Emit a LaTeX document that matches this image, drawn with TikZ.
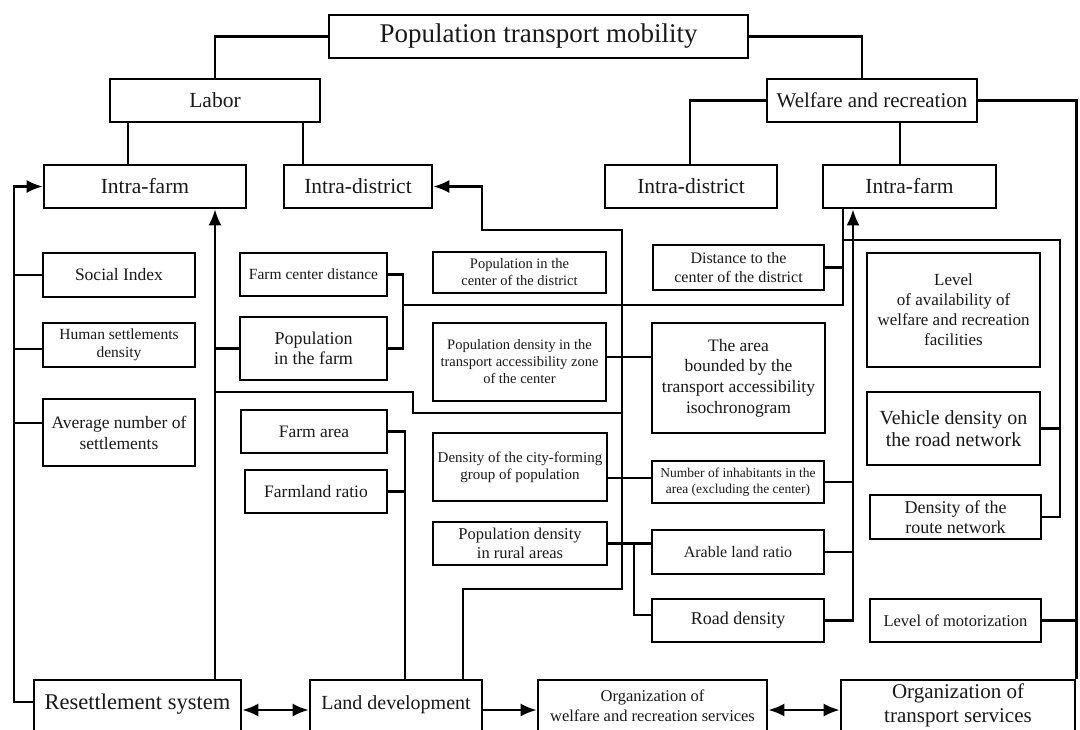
\documentclass[tikz,border=0pt]{standalone}
\usepackage{fontspec}
\setmainfont{Liberation Serif}
\usetikzlibrary{arrows.meta}
\newcommand{\fsz}[2]{\fontsize{#1}{#2}\selectfont}
\begin{document}
\begin{tikzpicture}[x=1pt,y=-1pt,
  box/.style={draw, line width=2.6pt, inner sep=1pt, align=center, text=black!90},
  lbl/.style={inner sep=0pt, align=center, text=black!90},
  ln/.style={line width=2.4pt},
  tip/.tip={Latex[length=16pt,width=13pt]},
  arr/.style={ln, -tip},
  darr/.style={ln, tip-tip}]
\useasboundingbox (0,0) rectangle (1080,729);
\clip (0,0) rectangle (1080,729);
\fill[white] (0,0) rectangle (1080,729);

% bus coordinates
\coordinate (busL) at (14,0);
\coordinate (busM) at (215,0);
\coordinate (busF) at (403,0);
\coordinate (busJ) at (413,0);
\coordinate (busG) at (405,0);
\coordinate (busH) at (463,0);
\coordinate (busI) at (482,0);
\coordinate (busC) at (622,0);
\coordinate (busK) at (634,0);
\coordinate (busD) at (843,0);
\coordinate (busR) at (853,0);
\coordinate (busV) at (1060,0);
\coordinate (busE) at (1075,0);

% top levels
\node[box, minimum width=419, minimum height=43, font=\fsz{27}{30}] (title) at (538.5,36.5) {Population transport mobility};
\node[box, minimum width=210, minimum height=43, font=\fsz{21.5}{24}] (labor) at (215,100.5) {Labor};
\node[box, minimum width=210, minimum height=43, font=\fsz{21}{24}] (welfare) at (872,100.5) {Welfare and recreation};
\node[box, minimum width=202, minimum height=43, font=\fsz{21.5}{24}] (ifL) at (145,186.5) {Intra-farm};
\node[box, minimum width=148, minimum height=43, font=\fsz{21.5}{24}] (idL) at (358,186.5) {Intra-district};
\node[box, minimum width=172, minimum height=43, font=\fsz{21.5}{24}] (idR) at (691,186.5) {Intra-district};
\node[box, minimum width=173, minimum height=43, font=\fsz{21.5}{24}] (ifR) at (909.5,186.5) {Intra-farm};

% left column
\node[box, minimum width=152, minimum height=44, font=\fsz{17.5}{20}] (social) at (119,275) {Social Index};
\node[box, minimum width=152, minimum height=44, font=\fsz{15.5}{18}] (human) at (119,345) {Human settlements\\density};
\node[box, minimum width=152, minimum height=67, font=\fsz{17.5}{21}] (avg) at (119,432.5) {Average number of\\settlements};

% second column
\node[box, minimum width=147, minimum height=43, font=\fsz{15.5}{18}] (farmcd) at (313.5,274.5) {Farm center distance};
\node[box, minimum width=147, minimum height=63, font=\fsz{18}{20}] (popfarm) at (313.5,348.5) {Population\\in the farm};
\node[box, minimum width=146, minimum height=43, font=\fsz{17.5}{20}] (farmarea) at (314,431.5) {Farm area};
\node[box, minimum width=142, minimum height=43, font=\fsz{17.5}{20}] (farmland) at (316,491.5) {Farmland ratio};

% third column
\node[box, minimum width=173, minimum height=41, font=\fsz{14.5}{17}] (popcd) at (519.5,272.5) {Population in the\\center of the district};
\node[box, minimum width=173, minimum height=78, font=\fsz{14.5}{17}] (popdta) at (519.5,362) {Population density in the\\transport accessibility zone\\of the center};
\node[box, minimum width=174, minimum height=68, font=\fsz{15}{17}] (cityf) at (520,467) {Density of the city-forming\\group of population};
\node[box, minimum width=174, minimum height=43, font=\fsz{16.5}{19}] (rural) at (520,543.5) {Population density\\in rural areas};

% fourth column
\node[box, minimum width=171, minimum height=45, font=\fsz{16}{19}] (dist) at (738.5,267.5) {Distance to the\\center of the district};
\node[box, minimum width=173, minimum height=110, font=\fsz{17.5}{20.7}] (area) at (738.5,378) {The area\\bounded by the\\transport accessibility\\isochronogram};
\node[box, minimum width=172, minimum height=42, font=\fsz{13.5}{16}] (inhab) at (738,482) {Number of inhabitants in the\\area (excluding the center)};
\node[box, minimum width=172, minimum height=44, font=\fsz{16}{19}] (arable) at (738,552) {Arable land ratio};
\node[box, minimum width=172, minimum height=43, font=\fsz{18}{20}] (road) at (738,620.5) {Road density};

% right column
\node[box, minimum width=173, minimum height=114, font=\fsz{17}{20}] (level) at (953.5,310) {Level\\of availability of\\welfare and recreation\\facilities};
\node[box, minimum width=173, minimum height=73, font=\fsz{20}{22.5}] (vehicle) at (953.5,428.5) {Vehicle density on\\the road network};
\node[box, minimum width=171, minimum height=44, font=\fsz{18}{20}] (route) at (955.5,517) {Density of the\\route network};
\node[box, minimum width=171, minimum height=43, font=\fsz{16.5}{19}] (motor) at (955.5,620.5) {Level of motorization};

% bottom row (cut by the lower edge)
\node[box, minimum width=207, minimum height=65] (resettle) at (137.5,712.5) {};
\node[lbl, font=\fsz{22.5}{24}] (resettle-t) at (137.5,704) {Resettlement system};
\node[box, minimum width=172, minimum height=65] (landdev) at (396,712.5) {};
\node[lbl, font=\fsz{20}{22}] (landdev-t) at (396,705) {Land development};
\node[box, minimum width=229, minimum height=65] (orgw) at (652.5,712.5) {};
\node[lbl, font=\fsz{16.5}{20}] (orgw-t) at (652.5,706) {Organization of\\welfare and recreation services};
\node[box, minimum width=234, minimum height=65] (orgt) at (958,712.5) {};
\node[lbl, font=\fsz{21}{24}] (orgt-t) at (958,705) {Organization of\\transport services};

% hierarchy lines
\draw[ln] (title.west) -| (labor.north);
\draw[ln] (title.east) -| ([xshift=-10pt]welfare.north);
\draw[ln] (labor.south -| 128,0) -- (ifL.north -| 128,0);
\draw[ln] (labor.south -| 303,0) -- (idL.north -| 303,0);
\draw[ln] (welfare.west) -| (idR.north -| 690,0);
\draw[ln] (welfare.south -| 900,0) -- (ifR.north -| 900,0);
\draw[ln] (welfare.east) -| (orgt.north east);

% left bus
\draw[arr] (resettle.west |- 0,702) -| (busL |- ifL.west) -- (ifL.west);
\draw[ln] (social.west) -- (social.west -| busL);
\draw[ln] (human.west |- 0,349) -- (busL |- 0,349);
\draw[ln] (avg.west |- 0,423) -- (busL |- 0,423);

% second bus
\draw[arr] (resettle.north -| busM) -- (ifL.south -| busM);
\draw[ln] (popfarm.west) -- (popfarm.west -| busM);
\draw[ln] (busM |- 0,392) -| (busJ |- 0,413) -- (busC |- 0,413);

% farm center / population in the farm
\draw[ln] (farmcd.east) -| (busF |- popfarm.east) -- (popfarm.east);
\draw[ln] (busF |- 0,305) -| (ifR.south -| busD);
\draw[ln] (dist.east) -- (dist.east -| busD);
\draw[ln] (busD |- 0,240) -| (busV |- route.east) -- (route.east);
\draw[ln] (vehicle.east) -- (vehicle.east -| busV);
\draw[ln] (motor.east) -- (motor.east -| busE);

% road group
\draw[arr] (road.east) -| (ifR.south -| busR);
\draw[ln] (inhab.east) -- (inhab.east -| busR);
\draw[ln] (arable.east) -- (arable.east -| busR);

% farm area group
\draw[ln] (farmarea.east) -| (landdev.north -| busG);
\draw[ln] (farmland.east) -- (farmland.east -| busG);

% land development to intra-district
\draw[arr] (landdev.north -| busH) |- (busC |- 0,589) |- (busI |- 0,230) |- (idL.east);

% cross links
\draw[ln] (popdta.east |- 0,357) -- (area.west |- 0,357);
\draw[ln] (cityf.east |- 0,478) -- (inhab.west |- 0,478);
\draw[ln] (rural.east) -- (arable.west |- rural.east);
\draw[ln] (busK |- rural.east) |- (road.west |- 0,615);

% bottom arrows
\draw[darr] (resettle.east |- 0,710) -- (landdev.west |- 0,710);
\draw[arr] (landdev.east |- 0,710) -- (orgw.west |- 0,710);
\draw[darr] (orgw.east |- 0,710) -- (orgt.west |- 0,710);
\end{tikzpicture}
\end{document}
